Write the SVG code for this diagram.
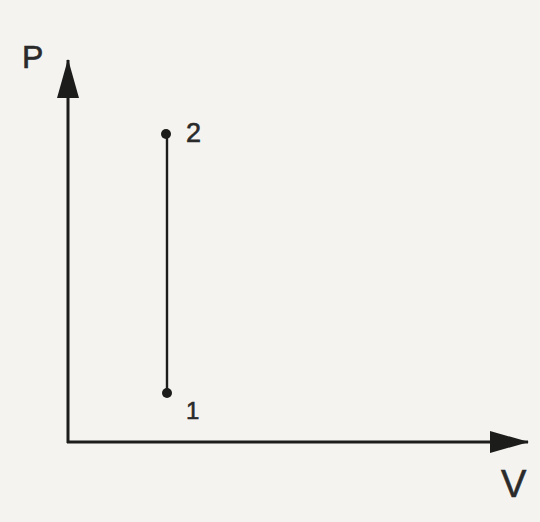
<svg xmlns="http://www.w3.org/2000/svg" width="540" height="522" viewBox="0 0 540 522">
<style>
.ax{stroke:#1c1c1a;stroke-width:3;fill:none}
.ln{stroke:#1c1c1a;stroke-width:2.4;fill:none}
.pt{fill:#1c1c1a}
.lbl{font-family:"Liberation Sans",Arial,sans-serif;fill:#2a2a2a;stroke:#2a2a2a;stroke-width:0.6}
</style>
<defs>
<marker id="ah" markerUnits="userSpaceOnUse" markerWidth="40" markerHeight="22" refX="38" refY="11" orient="auto" viewBox="0 0 40 22">
<path d="M0,0 L39,11 L0,22 Z" fill="#1c1c1a"/>
</marker>
</defs>
<rect width="540" height="522" fill="#f4f3f0"/>
<g id="connectors">
<path class="ax" d="M68,443 L68,60" marker-end="url(#ah)"/>
<path class="ax" d="M67,442 L528,442" marker-end="url(#ah)"/>
<path class="ln" d="M167,134 L167,393"/>
</g>
<g id="axis-P"><text class="lbl" x="22" y="68" font-size="32">P</text></g>
<g id="axis-V"><text class="lbl" x="501" y="497" font-size="38">V</text></g>
<g id="point-2"><circle class="pt" cx="166" cy="134" r="5"/><text class="lbl" x="186" y="142" font-size="27">2</text></g>
<g id="point-1"><circle class="pt" cx="167" cy="393" r="5"/><text class="lbl" x="186" y="419" font-size="24">1</text></g>
</svg>
